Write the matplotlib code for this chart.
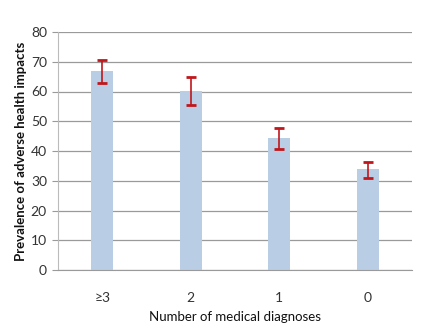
import matplotlib
matplotlib.use("Agg")
import matplotlib.pyplot as plt

categories = ["≥3", "2", "1", "0"]
values = [67.0, 60.1, 44.3, 33.8]
err_low = [4.0, 4.7, 3.6, 3.0]
err_high = [3.6, 4.7, 3.4, 2.6]
yticks = [0, 10, 20, 30, 40, 50, 60, 70, 80]

plt.rcParams['font.family'] = ['Lato', 'DejaVu Sans']
fig = plt.figure(figsize=(4.34, 3.36), dpi=100)
ax = fig.add_axes([58/434, 1-270/336, (412-58)/434, (270-32)/336])

x = list(range(len(categories)))
ax.bar(x, values, width=0.25, color="#B9CDE5", zorder=2)
ax.errorbar(x, values, yerr=[err_low, err_high], fmt='none', ecolor="#C0171C",
            elinewidth=1.2, capsize=3.5, capthick=2, zorder=3)

ax.set_xlim(-0.5, 3.5)
ax.set_ylim(0, 80)
ax.set_yticks(yticks)
ax.set_xticks(x)
ax.set_xticklabels(categories)
ax.yaxis.grid(True, color="#9A9A9A", linewidth=0.9, zorder=0)
ax.set_axisbelow(True)
for s in ["top", "right"]:
    ax.spines[s].set_visible(False)
ax.spines["left"].set_color("#BBBBBB")
ax.spines["bottom"].set_color("#9A9A9A")
ax.tick_params(axis='y', length=4, color="#9A9A9A", labelsize=10, pad=4, labelcolor="#333333")
ax.tick_params(axis='x', length=0, labelsize=10, pad=16, labelcolor="#333333")
ax.set_xlabel("Number of medical diagnoses", fontsize=9.5, labelpad=5, color="#111111")
ax.set_ylabel("Prevalence of adverse health impacts", fontsize=9.5, fontweight='bold',
              color="#111111")
ax.yaxis.set_label_coords(-0.088, 0.5)
fig.savefig("out.png", dpi=100)
